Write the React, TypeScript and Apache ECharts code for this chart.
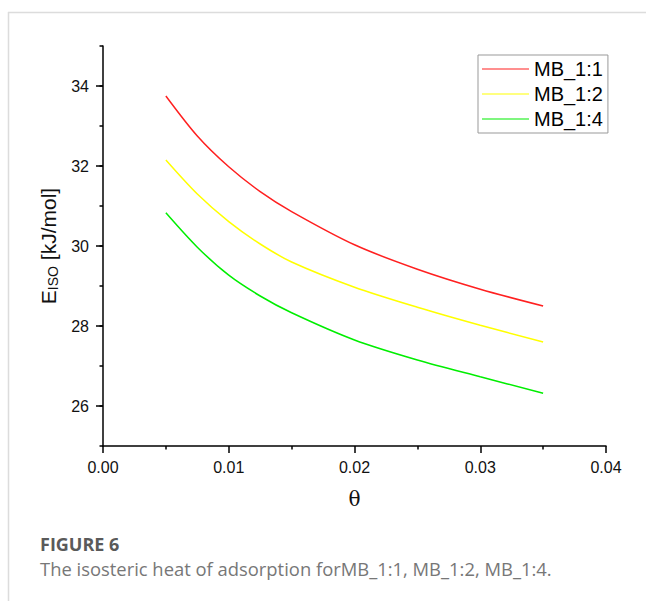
import React, { useEffect, useRef } from "react";
import * as echarts from "echarts";

const theta = [0.005, 0.0075, 0.01, 0.0125, 0.015, 0.02, 0.025, 0.03, 0.035];
const mb11 = [33.75, 32.75, 31.98, 31.36, 30.86, 30.03, 29.42, 28.92, 28.5];
const mb12 = [32.15, 31.3, 30.61, 30.05, 29.6, 28.97, 28.47, 28.02, 27.6];
const mb14 = [30.83, 29.97, 29.27, 28.75, 28.33, 27.65, 27.15, 26.73, 26.32];
const seriesNames = ["MB_1:1", "MB_1:2", "MB_1:4"];
const seriesColors = ["#ff2020", "#ffff00", "#00ee00"];
const yMajor = [26, 28, 30, 32, 34];
const captionTitle = "FIGURE 6";
const captionText = "The isosteric heat of adsorption forMB_1:1, MB_1:2, MB_1:4.";

export default function App() {
  const ref = useRef<HTMLDivElement>(null);
  useEffect(() => {
    if (!ref.current) return;
    const chart = echarts.init(ref.current, undefined, { renderer: "svg" });
    const allData = [mb11, mb12, mb14];
    const font = "Liberation Sans, Arial, sans-serif";
    chart.setOption({
      animation: false,
      backgroundColor: "#ffffff",
      grid: { left: 103, top: 46, right: 40, bottom: 155, containLabel: false },
      legend: {
        show: true,
        orient: "vertical",
        left: 478,
        top: 55,
        padding: [4, 5, 4, 4],
        borderColor: "#999999",
        borderWidth: 1,
        itemGap: 5,
        itemWidth: 47,
        itemHeight: 1,
        icon: "rect",
        data: seriesNames,
        textStyle: { fontSize: 20, color: "#000", fontFamily: font },
      },
      xAxis: {
        type: "value",
        min: 0,
        max: 0.04,
        interval: 0.01,
        name: "θ",
        nameLocation: "middle",
        nameGap: 43,
        nameTextStyle: { fontFamily: "DejaVu Serif, Liberation Serif, serif", fontSize: 20, color: "#111" },
        axisLine: { show: true, onZero: false, lineStyle: { color: "#000", width: 1.5 } },
        axisTick: { show: true, inside: false, length: 7, lineStyle: { color: "#000", width: 1.5 } },
        minorTick: { show: true, splitNumber: 2, length: 3.5, lineStyle: { color: "#000", width: 1.5 } },
        splitLine: { show: false },
        axisLabel: {
          fontSize: 16,
          color: "#111",
          fontFamily: font,
          margin: 13,
          formatter: (v: number) => v.toFixed(2),
        },
      },
      yAxis: [
        {
          type: "value",
          min: 25,
          max: 35,
          interval: 1,
          position: "left",
          name: "{a|E}{b|ISO}{a| [kJ/mol]}",
          nameLocation: "middle",
          nameGap: 37,
          nameRotate: 90,
          nameTextStyle: {
            fontFamily: font,
            color: "#111",
            rich: {
              a: { fontSize: 21, fontFamily: font, color: "#111", lineHeight: 26 },
              b: { fontSize: 14, fontFamily: font, color: "#111", padding: [10, 0, 0, 0], lineHeight: 26 },
            },
          },
          axisLine: { show: true, onZero: false, lineStyle: { color: "#000", width: 1.5 } },
          axisTick: { show: true, inside: false, length: 3.5, lineStyle: { color: "#000", width: 1.5 } },
          splitLine: { show: false },
          axisLabel: {
            fontSize: 16,
            color: "#111",
            fontFamily: font,
            margin: 14,
            customValues: yMajor,
          },
        },
        {
          type: "value",
          min: 25,
          max: 35,
          interval: 1,
          position: "left",
          axisLine: { show: false, onZero: false },
          axisTick: { show: true, inside: false, length: 7, customValues: yMajor, lineStyle: { color: "#000", width: 1.5 } },
          axisLabel: { show: false },
          splitLine: { show: false },
        },
      ],
      series: seriesNames.map((name, i) => ({
        name,
        type: "line",
        smooth: 0.3,
        showSymbol: false,
        symbol: "none",
        yAxisIndex: 0,
        color: seriesColors[i],
        lineStyle: { color: seriesColors[i], width: 1.5 },
        data: theta.map((t, j) => [t, allData[i][j]]),
      })),
      graphic: [
        { type: "line", shape: { x1: 8, y1: 12.5, x2: 646, y2: 12.5 }, style: { stroke: "#dcdcdc", lineWidth: 1.5 } },
        { type: "line", shape: { x1: 8.5, y1: 12, x2: 8.5, y2: 601 }, style: { stroke: "#dcdcdc", lineWidth: 1.5 } },
        {
          type: "text",
          left: 40,
          top: 535,
          style: { text: captionTitle, fontSize: 18, fontWeight: "bold", fill: "#5a5a5a", fontFamily: "Open Sans, sans-serif" },
        },
        {
          type: "text",
          left: 40,
          top: 559,
          style: { text: captionText, fontSize: 18.4, fill: "#777777", fontFamily: "Open Sans, sans-serif" },
        },
      ],
    });
    return () => chart.dispose();
  }, []);
  return (
    <div
      ref={ref}
      style={{ position: "absolute", left: 0, top: 0, width: 646, height: 601 }}
    />
  );
}
